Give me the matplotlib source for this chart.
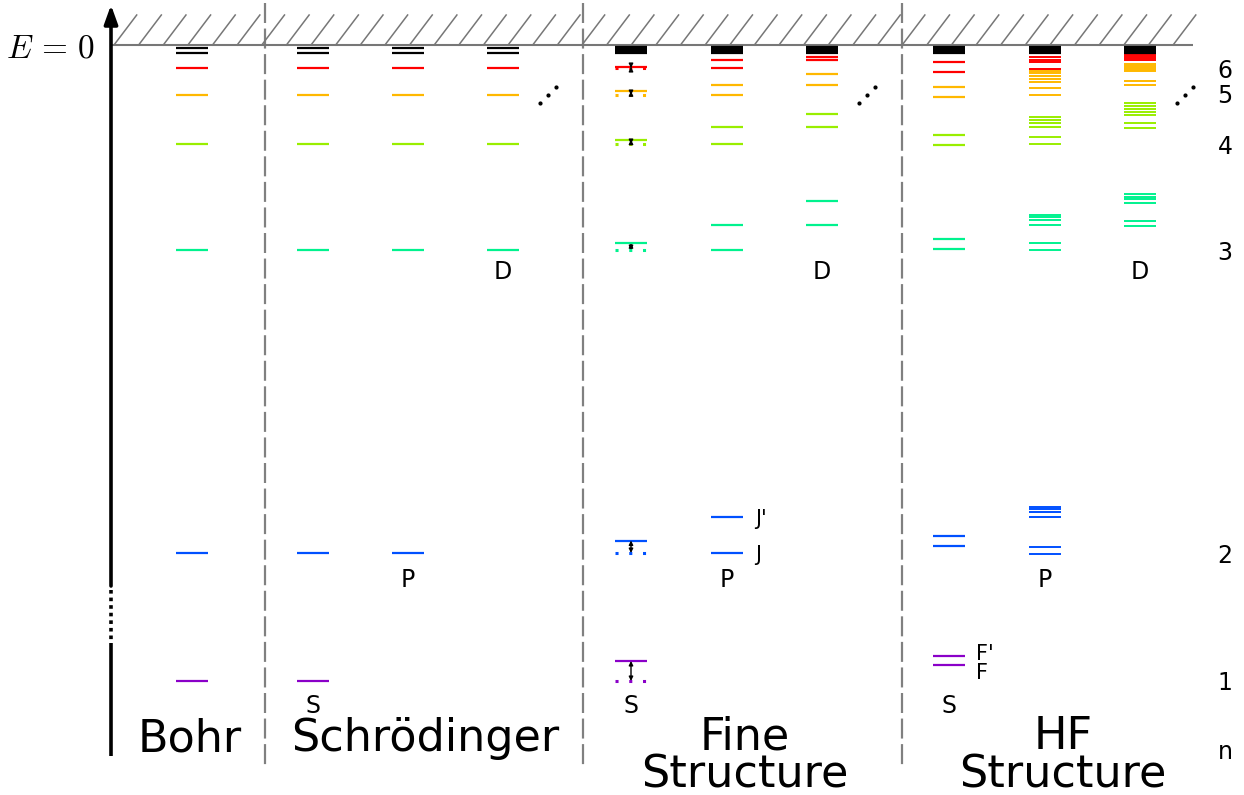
import numpy as np
import matplotlib.pyplot as plt

plt.rcParams['mathtext.fontset'] = 'cm'
plt.rcParams['font.family'] = ['DejaVu Sans']

# level colours for n = 1..6, black for the crowd of levels near E = 0
level_colors = ['#8a00c8', '#0050ff', '#00f28e', '#99ee00', '#ffb800', '#ff0000']
n_labels = ['1', '2', '3', '4', '5', '6']
n_label_base = [690, 563, 260, 154, 103, 78]

# heights on the diagram (0 = top of figure, E = 0 line at 45)
bohr_E = [681, 553, 250, 144, 95, 68]
cont_pair = [48.3, 52.7]
cont_block = [47.2, 48.9, 50.6, 52.3, 53.2]

# fine structure: S shifted up (dotted = old level), P and D split in two
fine_S = [661, 540.5, 243.3, 139.7, 91.3, 67]
fine_P = [[517.3, 553.3], [225, 250.3], [127.3, 144.3], [85, 95], [60, 68.3]]
fine_D = [[201, 225], [114.3, 127.3], [74.3, 85], [56.7, 60]]

# hyperfine structure
hf_S = [[655.7, 665.3], [535.7, 545.7], [238.7, 249], [135, 145], [86.7, 96.7], [62.3, 72.3]]
hf_P = [[506.7, 509.3, 512, 516.7, 546.7, 554.3],
        [214.7, 217.3, 220, 225, 243.3, 250.3],
        [117.3, 120, 123, 126.7, 137.3, 144.3],
        [70.7, 73.3, 76, 78.7, 81.7, 88.3, 94.7],
        [57.3, 59.5, 61.7, 68.7]]
hf_D = [[194, 196.7, 199.3, 203.3, 221.3, 225.7],
        [103.3, 106, 108.7, 112, 115, 123.3, 127.7],
        [63.5, 65.5, 67.5, 69.5, 71, 81, 85],
        [54, 56, 58, 59.5]]

# column centres
x_bohr = 192
x_schr = [313, 408, 503]
x_fine = [631, 727, 822]
x_hf = [949, 1045, 1140]
x_sep = [265, 583, 902]
orbit_letters = ['S', 'P', 'D']
orbit_base = [713, 587, 279]

titles = ['Bohr', 'Schrödinger', 'Fine\nStructure', 'HF\nStructure']
title_x = [190, 425, 745, 1063]
HALF = 16


def level(ax, xc, y, color, lw=1.6, ls='-'):
    ax.hlines(y, xc - HALF, xc + HALF, colors=color, lw=lw, linestyles=ls, zorder=3)


def dots(ax, xc, yc):
    off = np.array([-7.7, 0, 7.7])
    ax.scatter(xc + off, yc - off, s=4, color='black', zorder=3)


fig = plt.figure(figsize=(12.44, 7.95), dpi=100)
ax = fig.add_axes([0, 0, 1, 1])
ax.set_xlim(0, 1244)
ax.set_ylim(795, 0)
ax.axis('off')

# E = 0 line with hatching
ax.hlines(45, 111, 1193, colors='#777777', lw=1.5, zorder=2)
for x0 in 114 + 24.63 * np.arange(44):
    ax.plot([x0, x0 + 22.7], [45, 15], color='#777777', lw=1.1, zorder=2)
ax.text(95, 58, r'$E\,=\,0$', fontsize=24, ha='right', va='baseline')

# energy axis with a break
ax.annotate('', xy=(111, 5), xytext=(111, 586),
            arrowprops=dict(arrowstyle='-|>,head_length=0.75,head_width=0.27',
                            lw=2.6, color='black', mutation_scale=15,
                            shrinkA=0, shrinkB=0), zorder=4)
ax.plot([111, 111], [643, 756], color='black', lw=2.6, solid_capstyle='butt')
ax.plot([111, 111], [590, 640], color='black', lw=2.6, linestyle=(0, (1, 1.1)))

# separators
ax.vlines(x_sep, 3, 768, colors='#808080', lw=1.6, linestyles=[(0, (9, 2.5))], zorder=1)

# Bohr
for y, c in zip(bohr_E, level_colors):
    level(ax, x_bohr, y, c)
for y in cont_pair:
    level(ax, x_bohr, y, 'black')

# Schrödinger
for l, xc in enumerate(x_schr):
    for y, c in zip(bohr_E[l:], level_colors[l:]):
        level(ax, xc, y, c)
    for y in cont_pair:
        level(ax, xc, y, 'black')
dots(ax, x_schr[2] + 45, 95)

# Fine structure
for y_new, y_old, c in zip(fine_S, bohr_E, level_colors):
    level(ax, x_fine[0], y_new, c)
    level(ax, x_fine[0], y_old, c, lw=2.2, ls=(0, (1, 3.5)))
    ax.annotate('', xy=(x_fine[0], y_old), xytext=(x_fine[0], y_new),
                arrowprops=dict(arrowstyle='<|-|>', lw=1, color='black',
                                mutation_scale=6, shrinkA=0, shrinkB=0), zorder=4)
for ys, c in zip(fine_P, level_colors[1:]):
    for y in ys:
        level(ax, x_fine[1], y, c)
for ys, c in zip(fine_D, level_colors[2:]):
    for y in ys:
        level(ax, x_fine[2], y, c)
for xc in x_fine:
    for y in cont_block:
        level(ax, xc, y, 'black')
dots(ax, x_fine[2] + 45, 95)
ax.text(x_fine[1] + 28, 525, "J'", fontsize=15, ha='left', va='baseline')
ax.text(x_fine[1] + 28, 561, "J", fontsize=15, ha='left', va='baseline')

# Hyperfine structure
for ys, c in zip(hf_S, level_colors):
    for y in ys:
        level(ax, x_hf[0], y, c)
for ys, c in zip(hf_P, level_colors[1:]):
    for y in ys:
        level(ax, x_hf[1], y, c, lw=1.4)
for ys, c in zip(hf_D, level_colors[2:]):
    for y in ys:
        level(ax, x_hf[2], y, c, lw=1.4)
for xc in x_hf:
    for y in cont_block:
        level(ax, xc, y, 'black')
dots(ax, x_hf[2] + 45, 95)
ax.text(x_hf[0] + 27, 660, "F'", fontsize=15, ha='left', va='baseline')
ax.text(x_hf[0] + 27, 679, "F", fontsize=15, ha='left', va='baseline')

# orbital letters under each column
for cols in (x_schr, x_fine, x_hf):
    for xc, lab, yb in zip(cols, orbit_letters, orbit_base):
        ax.text(xc, yb, lab, fontsize=17, ha='center', va='baseline')

# n labels
for lab, yb in zip(n_labels, n_label_base):
    ax.text(1225, yb, lab, fontsize=17, ha='center', va='baseline')
ax.text(1225, 759, 'n', fontsize=17, ha='center', va='baseline')

# column titles
for t, x in zip(titles, title_x):
    yb = 751 if '\n' not in t else 787
    ax.text(x, yb, t, fontsize=32, ha='center', va='baseline',
            multialignment='center', linespacing=0.84)

fig.savefig('out.png', dpi=100, facecolor='white')
